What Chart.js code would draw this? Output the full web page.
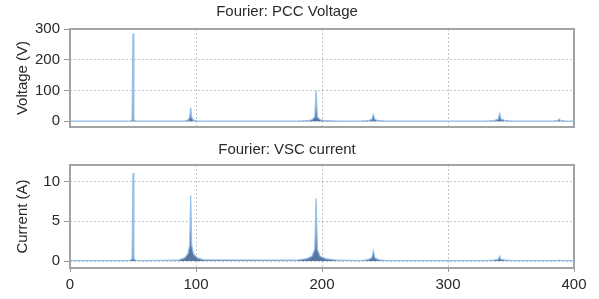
<!DOCTYPE html>
<html>
<head>
<meta charset="utf-8">
<script src="https://cdn.jsdelivr.net/npm/chart.js@4/dist/chart.umd.min.js"></script>
<style>
    body { margin: 0; background: #fff; }
    .wrap { position: absolute; left: 0; width: 599px; }
</style>
</head>
<body>
<div class="wrap" style="top:0;height:140px"><canvas id="voltChart" width="599" height="140"></canvas></div>
<div class="wrap" style="top:140px;height:159px"><canvas id="currChart" width="599" height="159"></canvas></div>
<script>
// frequency axis (Hz), shared by both spectra
const freqs = [0, 44, 48, 49.3, 50, 50.7, 52, 56, 86, 91, 93.5, 95, 95.8, 96.6, 98, 101, 106,
    180, 188, 192, 194.3, 195.3, 196.3, 198.5, 203, 212, 230, 236, 239.5, 240.8, 242, 245, 252,
    330, 336, 339.8, 341, 342.2, 346, 352, 378, 384, 387.3, 388.2, 389.3, 393, 400];

const voltage = [0.5, 0.5, 1, 4, 285, 4, 1, 0.5, 0.5, 1.5, 4, 12, 45, 12, 4, 1.5, 0.5,
    0.5, 2, 5, 14, 100, 14, 5, 2, 0.8, 0.5, 2, 6, 22, 6, 2, 0.5,
    0.5, 2, 7, 25, 7, 2, 0.5, 0.5, 1.5, 3, 8, 3, 1, 0.5];

const current = [0.05, 0.05, 0.1, 0.3, 11.1, 0.3, 0.1, 0.05, 0.1, 0.4, 0.9, 2, 8.3, 2, 0.9, 0.4, 0.15,
    0.1, 0.3, 0.6, 1.5, 7.9, 1.5, 0.6, 0.3, 0.1, 0.05, 0.15, 0.4, 1.3, 0.4, 0.15, 0.05,
    0.05, 0.1, 0.2, 0.6, 0.2, 0.1, 0.05, 0.05, 0.05, 0.08, 0.12, 0.08, 0.05, 0.05];

const xTicks = [0, 100, 200, 300, 400];
const voltTicks = [0, 100, 200, 300];
const currTicks = [0, 5, 10];

const FONT = {family: "'Liberation Sans', Arial, sans-serif", size: 15};
const TEXT = '#2a2a2a';

const framePlugin = {
    id: 'frame',
    afterDatasetsDraw(chart) {
        const a = chart.chartArea;
        const c = chart.ctx;
        c.save();
        c.strokeStyle = '#a3a3a3';
        c.lineWidth = 2;
        c.strokeRect(a.left, a.top, a.right - a.left, a.bottom - a.top);
        c.restore();
    }
};

function makeChart(id, title, titlePad, values, yLabel, yMin, yMax, yTicks, showX, xHeight) {
    const ctx = document.getElementById(id);
    return new Chart(ctx, {
        type: 'line',
        data: {
            datasets: [{
                data: freqs.map((f, i) => ({x: f, y: values[i]})),
                borderColor: '#93c0ea',
                backgroundColor: 'rgba(72, 102, 150, 0.9)',
                borderWidth: 1.2,
                pointRadius: 0,
                fill: 'origin',
                tension: 0
            }]
        },
        options: {
            responsive: false,
            animation: false,
            layout: {padding: {left: 0, right: 25, top: 0, bottom: 0}},
            plugins: {
                legend: {display: false},
                tooltip: {enabled: false},
                title: {
                    display: true,
                    text: title,
                    color: TEXT,
                    font: {...FONT, weight: 'normal'},
                    padding: titlePad
                }
            },
            scales: {
                x: {
                    type: 'linear',
                    min: 0,
                    max: 400,
                    border: {display: false, dash: [2, 2]},
                    grid: {
                        color: 'rgba(0,0,0,0.22)',
                        drawTicks: showX,
                        tickLength: 4,
                        tickColor: '#999'
                    },
                    ticks: {display: showX, color: TEXT, font: FONT, padding: 4, maxRotation: 0},
                    afterBuildTicks: s => { s.ticks = xTicks.map(v => ({value: v})); },
                    afterFit: s => { s.height = xHeight; }
                },
                y: {
                    min: yMin,
                    max: yMax,
                    border: {display: false, dash: [2, 2]},
                    grid: {
                        color: 'rgba(0,0,0,0.22)',
                        tickLength: 6,
                        tickColor: '#999'
                    },
                    ticks: {color: TEXT, font: FONT, padding: 4},
                    title: {display: true, text: yLabel, color: TEXT, font: FONT, padding: {top: 14, bottom: 0}},
                    afterBuildTicks: s => { s.ticks = yTicks.map(v => ({value: v})); },
                    afterFit: s => { s.width = 70; }
                }
            }
        },
        plugins: [framePlugin]
    });
}

makeChart('voltChart', 'Fourier: PCC Voltage', {top: 3, bottom: 8}, voltage, 'Voltage (V)', -18.4, 300, voltTicks, false, 7);
makeChart('currChart', 'Fourier: VSC current', {top: 1, bottom: 6}, current, 'Current (A)', -0.88, 12.1, currTicks, true, 31);
</script>
</body>
</html>
